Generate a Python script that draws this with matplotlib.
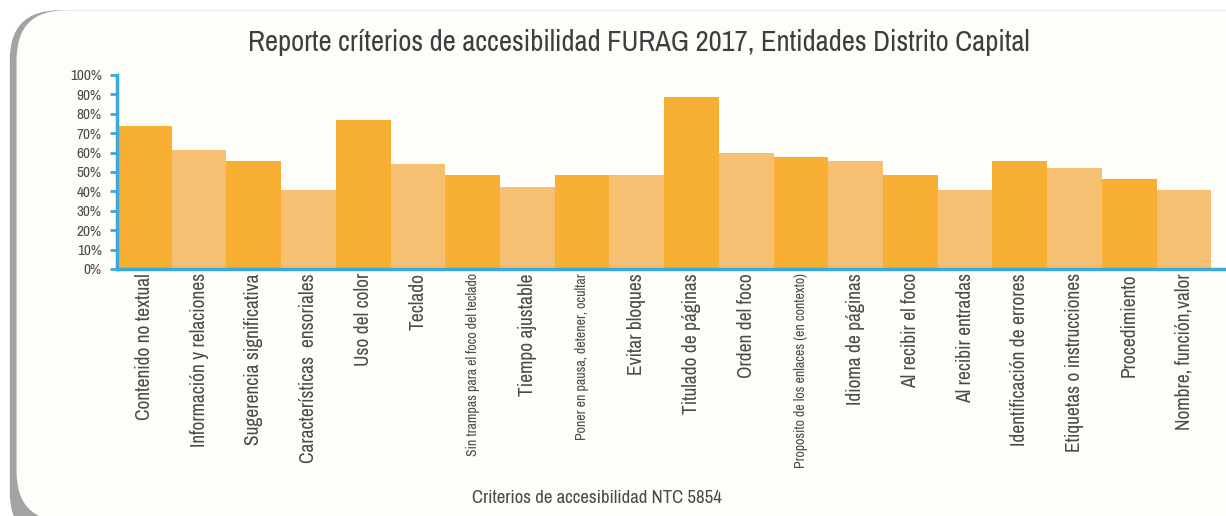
import matplotlib.pyplot as plt
from matplotlib.patches import FancyBboxPatch
from matplotlib import font_manager

# look for a condensed / narrow sans face, fall back to DejaVu Sans
cands = []
for f in font_manager.fontManager.ttflist:
    tag = (f.name + ' ' + f.fname).lower()
    if ('condensed' in tag or 'narrow' in tag or f.stretch not in ('normal', 500)) \
            and 'mono' not in tag and 'serif' not in tag.replace('sans', ''):
        cands.append(f)
cands.sort(key=lambda f: (f.weight not in ('normal', 400, 'regular'), 'italic' in f.style, f.name))
font_file = cands[0].fname if cands else None
font_name = cands[0].name if cands else 'DejaVu Sans'


def fp(size, weight='normal'):
    if font_file:
        bold = [c for c in cands if c.name == font_name and c.weight in ('bold', 700) and c.style == 'normal']
        if weight == 'bold' and bold:
            return font_manager.FontProperties(fname=bold[0].fname, size=size)
        return font_manager.FontProperties(fname=font_file, size=size)
    return font_manager.FontProperties(family='DejaVu Sans', size=size, weight=weight)


criterios = ['Contenido no textual', 'Información y relaciones', 'Sugerencia significativa',
             'Características  ensoriales', 'Uso del color', 'Teclado',
             'Sin trampas para el foco del teclado', 'Tiempo ajustable',
             'Poner en pausa, detener, ocultar', 'Evitar bloques', 'Titulado de páginas',
             'Orden del foco', 'Proposito de los enlaces (en contexto)', 'Idioma de páginas',
             'Al recibir el foco', 'Al recibir entradas', 'Identificación de errores',
             'Etiquetas o instrucciones', 'Procedimiento', 'Nombre, función,valor']
porcentaje = [73.7, 61.3, 55.7, 40.7, 76.8, 54.1, 48.5, 42.3, 48.5, 48.5,
              88.7, 60.0, 57.7, 55.7, 48.5, 40.7, 55.7, 52.0, 46.4, 40.7]
pequenas = [6, 8, 12]

dark = '#F7B033'
light = '#F7BF71'
blue = '#3AA9DE'
txt = '#4A4A4A'

fig = plt.figure(figsize=(12.26, 5.16), dpi=100)
fig.patch.set_facecolor('white')

# rounded panel with grey shadow on the left
fig.patches.append(FancyBboxPatch((0.008, -0.05), 1.2, 1.03, boxstyle='round,pad=0,rounding_size=0.04',
                                  transform=fig.transFigure, facecolor='#A3A3A3', edgecolor='none',
                                  mutation_aspect=2.4, zorder=-5))
fig.patches.append(FancyBboxPatch((0.0135, -0.01), 1.2, 0.99, boxstyle='round,pad=0,rounding_size=0.04',
                                  transform=fig.transFigure, facecolor='#FDFDF9', edgecolor='none',
                                  mutation_aspect=2.4, zorder=-4))

ax = fig.add_axes([0.0954, 0.4787, 0.9046, 0.376])
ax.patch.set_visible(False)
x = list(range(len(criterios)))
colors = [dark if i % 2 == 0 else light for i in x]
ax.bar(x, [v / 100 for v in porcentaje], width=1.0, color=colors)

ax.set_xlim(-0.5, 19.77)
ax.set_ylim(0, 1)
ax.set_yticks([i / 10 for i in range(11)])
ax.set_yticklabels([f'{i * 10}%' for i in range(11)], color=txt)
for lab in ax.get_yticklabels():
    lab.set_fontproperties(fp(11, 'bold'))
ax.tick_params(axis='y', direction='out', length=5, width=2, color=blue, pad=6)
ax.set_xticks(x)
ax.set_xticklabels(criterios, rotation=90, va='top', ha='center', color=txt)
for i, lab in enumerate(ax.get_xticklabels()):
    lab.set_fontproperties(fp(10 if i in pequenas else 14))
ax.tick_params(axis='x', length=0, pad=3)
for s in ['top', 'right']:
    ax.spines[s].set_visible(False)
ax.spines['left'].set_color(blue)
ax.spines['left'].set_linewidth(2.5)
ax.spines['bottom'].set_color(blue)
ax.spines['bottom'].set_linewidth(2.5)

fig.text(0.521, 0.918, 'Reporte críterios de accesibilidad FURAG 2017, Entidades Distrito Capital',
         ha='center', va='center', fontproperties=fp(20.6), color='#3E3E3E')
fig.text(0.487, 0.035, 'Criterios de accesibilidad NTC 5854', ha='center', va='center',
         fontproperties=fp(13.5), color=txt)

fig.savefig('out.png', dpi=100)
